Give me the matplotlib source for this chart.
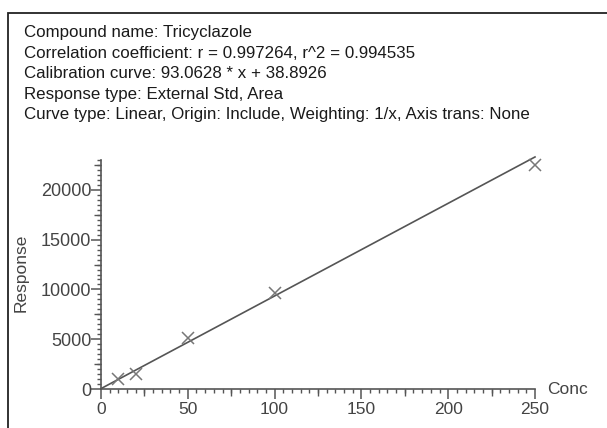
import numpy as np
import matplotlib.pyplot as plt
from matplotlib.patches import Rectangle
from matplotlib.ticker import MultipleLocator

plt.rcParams['font.family'] = ['Liberation Sans', 'DejaVu Sans']

# calibration standards
conc = [10, 20, 50, 100, 250]
response = [1000, 1500, 5100, 9600, 22450]
slope = 93.0628
intercept = 38.8926

header_lines = [
    "Compound name: Tricyclazole",
    "Correlation coefficient: r = 0.997264, r^2 = 0.994535",
    "Calibration curve: 93.0628 * x + 38.8926",
    "Response type: External Std, Area",
    "Curve type: Linear, Origin: Include, Weighting: 1/x, Axis trans: None",
]

fig = plt.figure(figsize=(6.07, 4.28), dpi=100)
fig.patch.set_facecolor('white')

# outer frame, clipped on right and bottom
fig.patches.append(Rectangle((8 / 607, -0.1), 1.2, (428 - 13) / 428 + 0.1,
                             transform=fig.transFigure, fill=False,
                             edgecolor='#222222', linewidth=1.3))

for i, line in enumerate(header_lines):
    fig.text(24 / 607, 1 - (33 + i * 20.5) / 428, line, fontsize=12.2,
             color='#1a1a1a', va='center', ha='left')

ax = fig.add_axes([101 / 607, 39 / 428, 434 / 607, 229 / 428])
xs = np.array([0, 250])
ax.plot(xs, slope * xs + intercept, color='#555555', linewidth=1.2,
        clip_on=False)
ax.plot(conc, response, linestyle='none', marker='x', markersize=9,
        markeredgewidth=1.1, color='#777777', clip_on=False)

ax.set_xlim(0, 250)
ax.set_ylim(0, 23000)
for s in ['top', 'right']:
    ax.spines[s].set_visible(False)
for s in ['left', 'bottom']:
    ax.spines[s].set_color('#555555')
    ax.spines[s].set_linewidth(1.2)

ax.xaxis.set_major_locator(MultipleLocator(50))
ax.xaxis.set_minor_locator(MultipleLocator(5))
ax.yaxis.set_major_locator(MultipleLocator(5000))
ax.yaxis.set_minor_locator(MultipleLocator(500))
ax.tick_params(which='major', length=7, width=1.1, color='#555555',
               labelcolor='#444444')
ax.tick_params(axis='x', which='major', labelsize=12.5, pad=2.5)
ax.tick_params(axis='y', which='major', labelsize=13, pad=0)
ax.tick_params(which='minor', length=3, width=1.0, color='#555555')

# medium ticks at the half-way marks
sec_x = ax.secondary_xaxis('bottom')
sec_x.set_xticks(np.arange(25, 250, 50))
sec_x.tick_params(length=5, width=1.0, color='#555555', labelbottom=False)
sec_x.spines['bottom'].set_visible(False)
sec_y = ax.secondary_yaxis('left')
sec_y.set_yticks(np.arange(2500, 23000, 5000))
sec_y.tick_params(length=5, width=1.0, color='#555555', labelleft=False)
sec_y.spines['left'].set_visible(False)

fig.text(21 / 607, 1 - 273 / 428, 'Response', rotation=90, fontsize=12.5,
         color='#444444', ha='center', va='center')
fig.text(547 / 607, 1 - 390 / 428, 'Conc', fontsize=12.5,
         color='#444444', ha='left', va='center')

fig.savefig('out.png', dpi=100, facecolor='white')
